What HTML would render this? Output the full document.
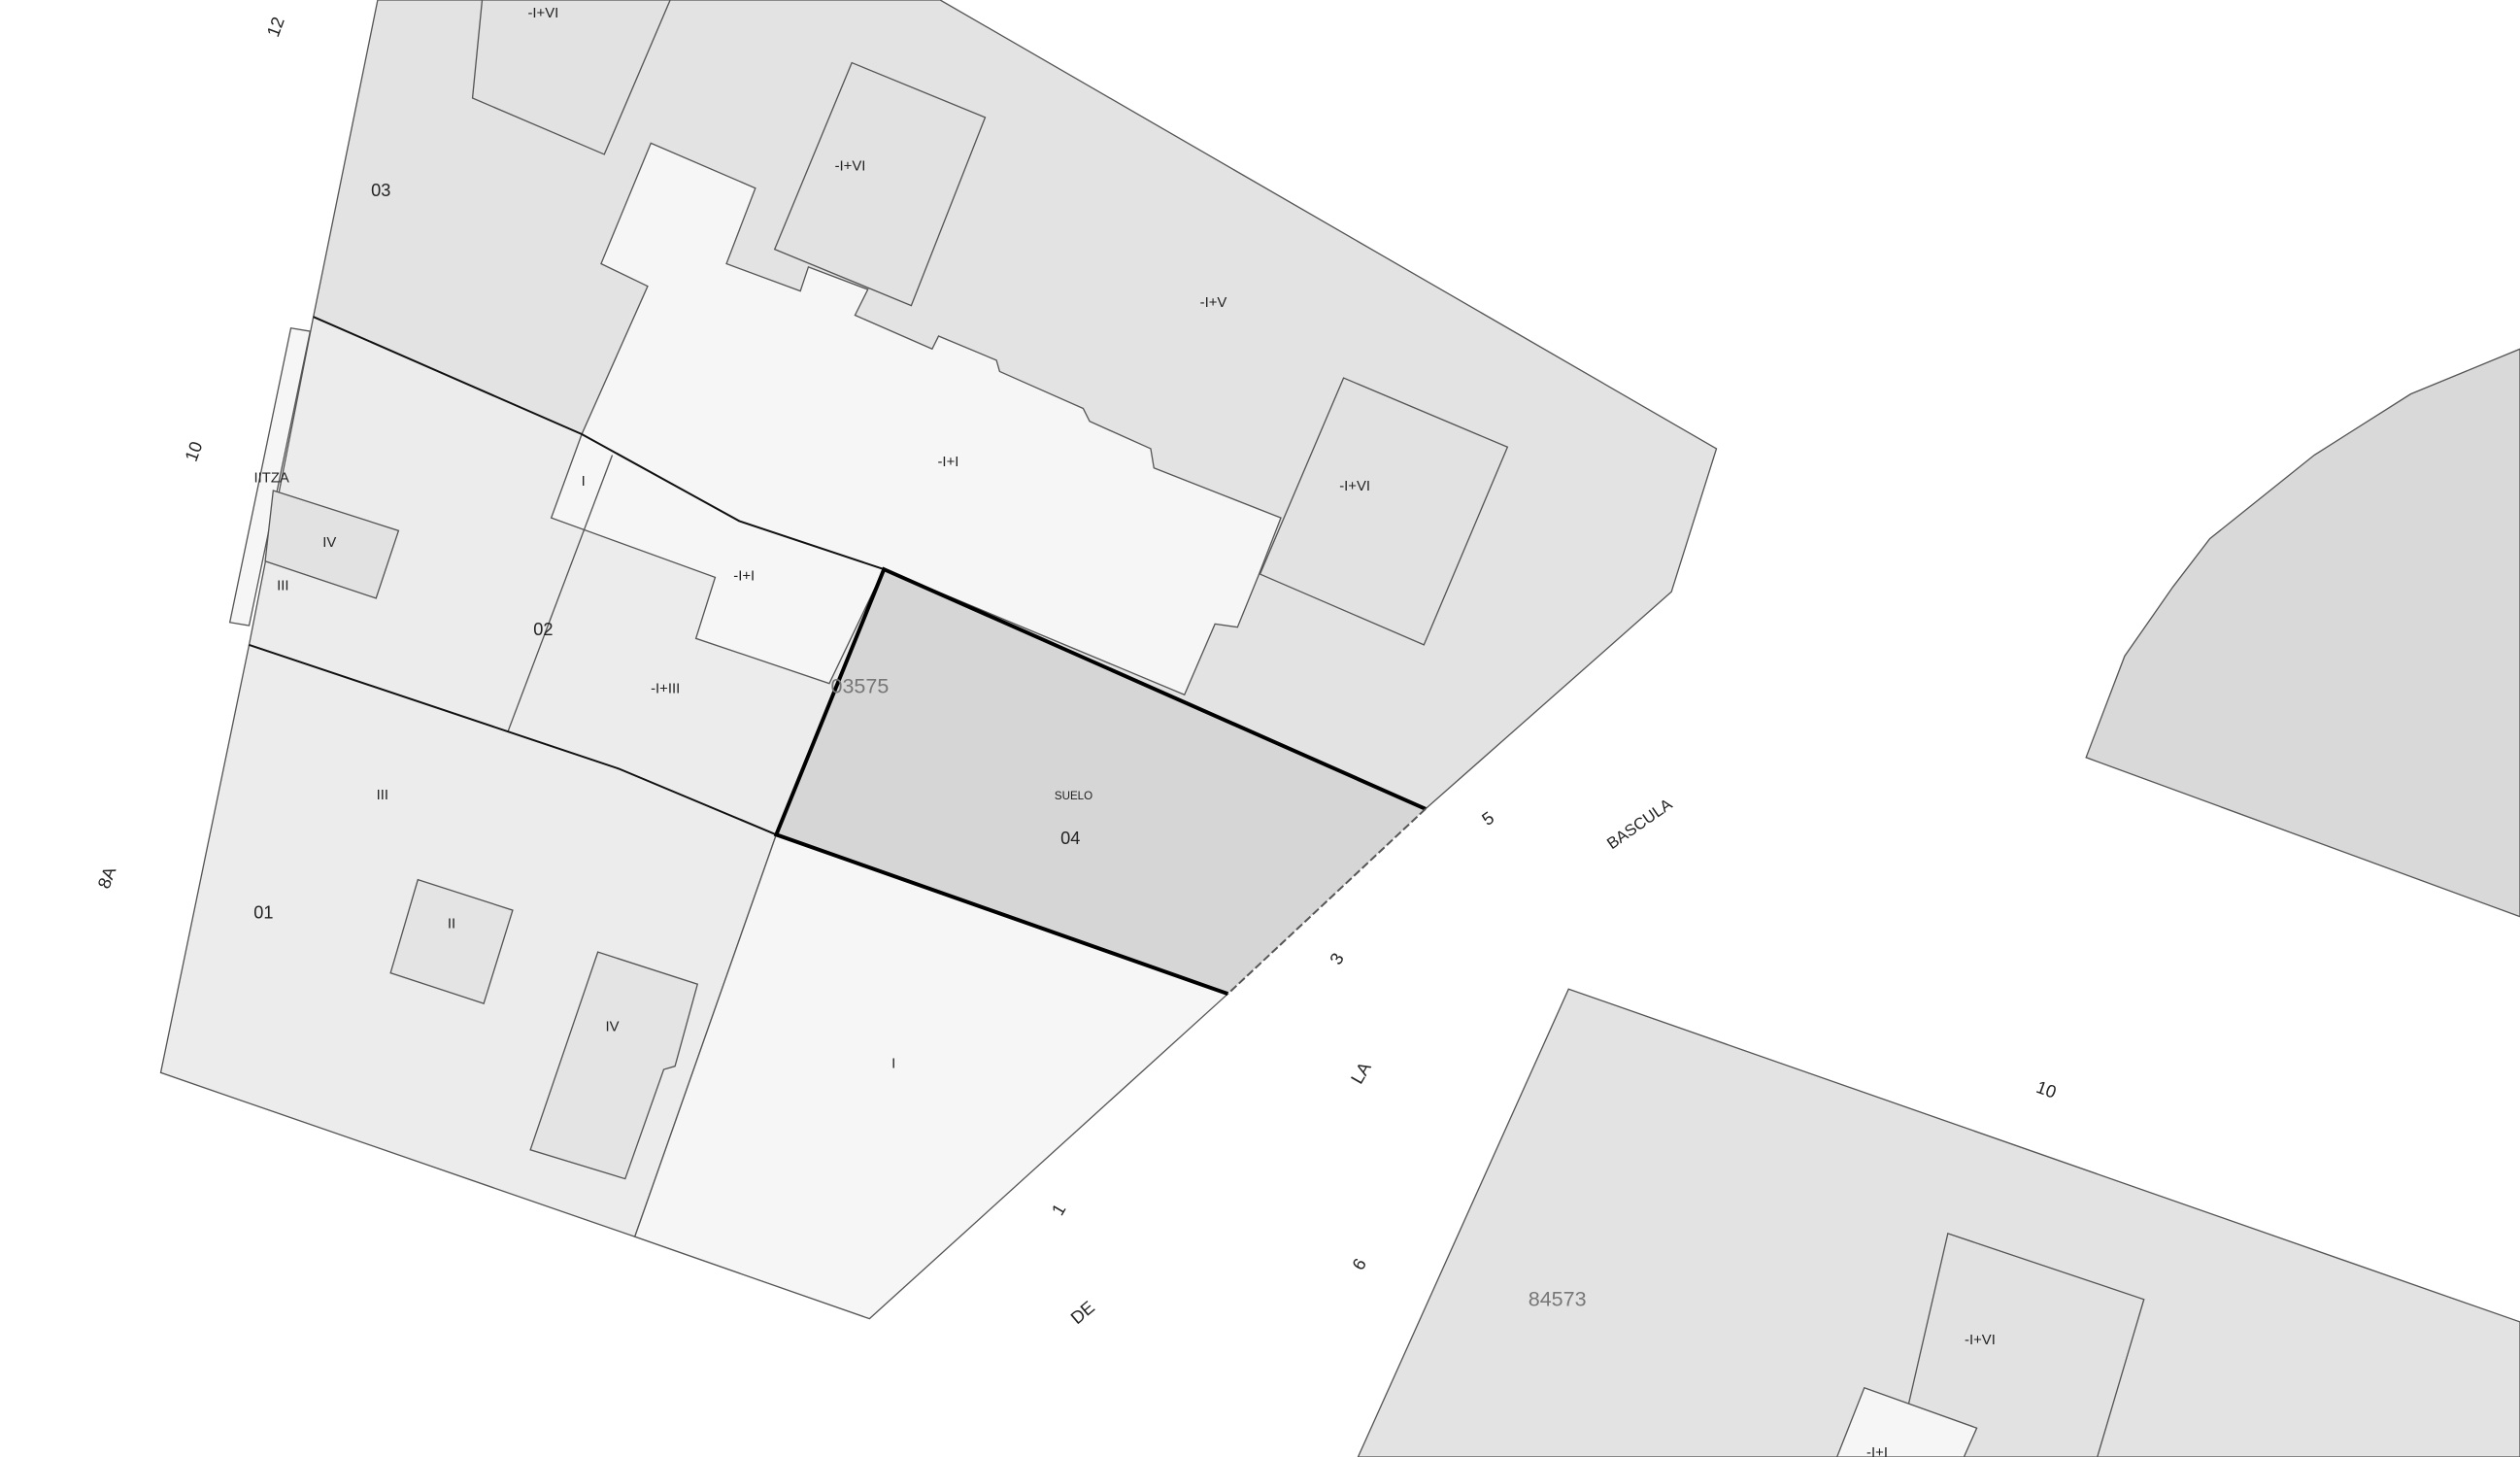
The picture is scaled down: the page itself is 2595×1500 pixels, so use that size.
<!DOCTYPE html>
<html><head><meta charset="utf-8"><style>
html,body{margin:0;padding:0;background:#fff;}
svg{display:block;}
text{font-family:"Liberation Sans",sans-serif;fill:#222;}
</style></head><body>
<svg width="2595" height="1500" viewBox="0 0 1568 906" preserveAspectRatio="none" xmlns="http://www.w3.org/2000/svg">
<rect width="1568" height="906" fill="#fff"/>
<g stroke="#555" stroke-width="0.8">
<!-- parcel 03 -->
<polygon fill="#e3e3e3" points="235,0 585,0 1068,279 1040,368 887,503 550,354 460,324 362,270 195,197"/>
<!-- light building top -->
<polygon fill="#f6f6f6" points="405,89 470,117 452,164 498,181 503,166 540,180 532,196 580,217 584,209 620,224 622,231 674,254 678,262 716,279 718,291 797,322 783,358 770,390 756,388 737,432 550,354 460,324 362,270 403,178 374,164"/>
<polygon fill="#e2e2e2" points="300,0 417,0 376,96 294,61"/>
<polygon fill="#e2e2e2" points="530,39 613,73 567,190 482,155"/>
<polygon fill="#e2e2e2" points="836,235 938,278 886,401 784,357"/>
<!-- parcel 02 -->
<polygon fill="#ececec" points="195,197 362,270 460,324 550,354 483,519 385,478 155,401"/>
<polygon fill="#f6f6f6" points="181,204 193,206 155,389 143,387"/>
<polygon fill="#f6f6f6" points="362,270 343,322 445,359 433,397 516,425 550,354 460,324"/>
<line x1="381" y1="283" x2="316" y2="455"/>
<polygon fill="#e2e2e2" points="170,305 248,330 234,372 165,349"/>
<!-- parcel 01 -->
<polygon fill="#ececec" points="155,401 385,478 483,519 395,769 100,667"/>
<polygon fill="#f6f6f6" points="483,519 764,618 541,820 395,769"/>
<polygon fill="#e4e4e4" points="260,547 319,566 301,624 243,605"/>
<polygon fill="#e4e4e4" points="372,592 434,612 420,663 413,665 389,733 330,715"/>
<!-- right regions -->
<polygon fill="#d9d9d9" points="1568,217 1500,245 1440,283 1375,335 1352,365 1322,408 1298,471 1568,570"/>
<polygon fill="#e3e3e3" points="976,615 1568,822 1568,906 845,906"/>
<polygon fill="#e2e2e2" points="1212,767 1334,808 1305,906 1180,906"/>
<polygon fill="#f6f6f6" points="1160,863 1230,888 1222,906 1143,906"/>
</g>
<!-- boundary black lines -->
<polyline fill="none" stroke="#111" stroke-width="1.2" points="195,197 362,270 460,324 550,354"/>
<polyline fill="none" stroke="#111" stroke-width="1.2" points="155,401 385,478 483,519"/>
<!-- parcel 04 -->
<polygon fill="#d6d6d6" stroke="none" points="550,354 887,503 764,618 483,519"/>
<polyline fill="none" stroke="#000" stroke-width="2.4" points="887,503 550,354 483,519 764,618"/>
<line x1="887" y1="503" x2="764" y2="618" stroke="#555" stroke-width="1.2" stroke-dasharray="5,2"/>
<!-- labels -->
<g font-size="11">
<text x="237" y="122" text-anchor="middle">03</text>
<text x="338" y="395" text-anchor="middle">02</text>
<text x="164" y="571" text-anchor="middle">01</text>
<text x="666" y="525" text-anchor="middle">04</text>
<text transform="translate(175,18) rotate(-70)" text-anchor="middle">12</text>
<text transform="translate(124,282) rotate(-70)" text-anchor="middle">10</text>
<text transform="translate(70,547) rotate(-70)" text-anchor="middle">8A</text>
<text transform="translate(928,512) rotate(-35)" text-anchor="middle">5</text>
<text transform="translate(1022,515) rotate(-35)" text-anchor="middle" font-size="10">BASCULA</text>
<text transform="translate(835,598) rotate(-60)" text-anchor="middle">3</text>
<text transform="translate(850,669) rotate(-60)" text-anchor="middle">LA</text>
<text transform="translate(662,754) rotate(-60)" text-anchor="middle">1</text>
<text transform="translate(676,819) rotate(-40)" text-anchor="middle">DE</text>
<text transform="translate(849,788) rotate(-60)" text-anchor="middle">6</text>
<text transform="translate(1272,681) rotate(20)" text-anchor="middle">10</text>
</g>
<g font-size="9" fill="#333" text-anchor="middle">
<text x="338" y="11">-I+VI</text>
<text x="529" y="106">-I+VI</text>
<text x="755" y="191">-I+V</text>
<text x="590" y="290">-I+I</text>
<text x="843" y="305">-I+VI</text>
<text x="463" y="361">-I+I</text>
<text x="414" y="431">-I+III</text>
<text x="363" y="302">I</text>
<text x="169" y="300">IITZA</text>
<text x="205" y="340">IV</text>
<text x="176" y="367">III</text>
<text x="238" y="497">III</text>
<text x="281" y="577">II</text>
<text x="381" y="641">IV</text>
<text x="556" y="664">I</text>
<text x="668" y="497" font-size="7">SUELO</text>
<text x="1232" y="836">-I+VI</text>
<text x="1168" y="906">-I+I</text>
</g>
<text x="535" y="431" text-anchor="middle" font-size="13" style="fill:#777">03575</text>
<text x="969" y="812" text-anchor="middle" font-size="13" style="fill:#777">84573</text>
</svg>
</body></html>
